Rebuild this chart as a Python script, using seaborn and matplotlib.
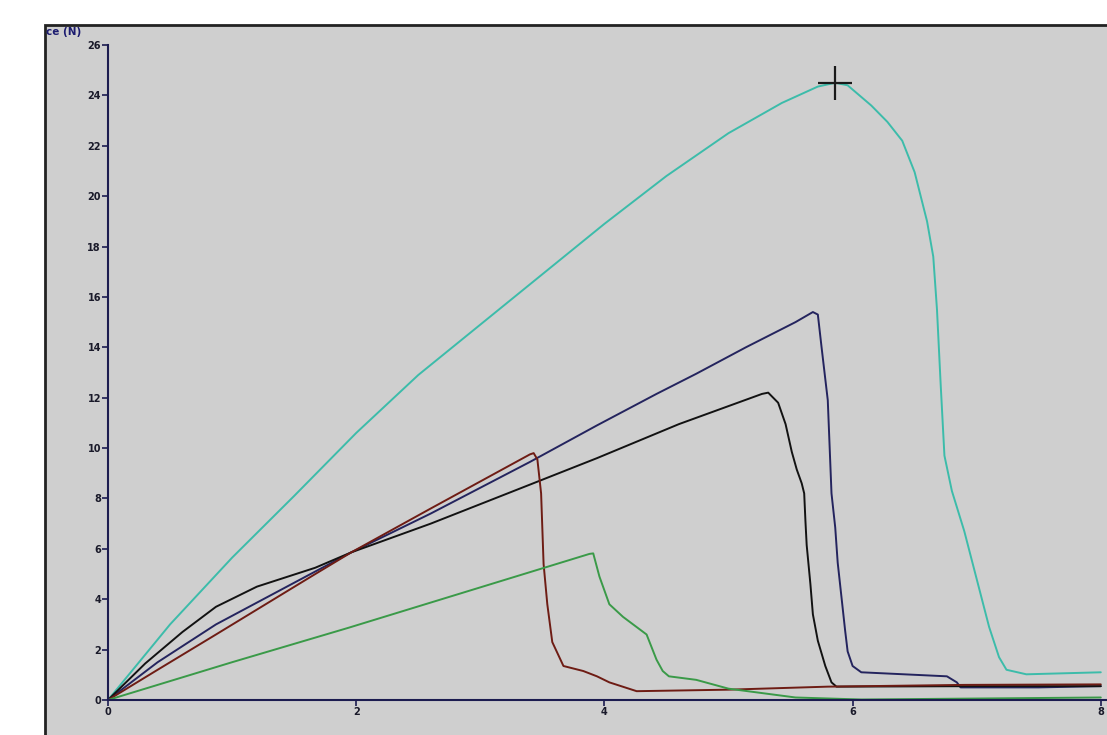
import seaborn as sns
import matplotlib.pyplot as plt
import matplotlib.patches as patches
import pandas as pd
import numpy as np

# DATA
cyan_x = [0, 0.5, 1.0, 1.5, 2.0, 2.5, 3.0, 3.5, 4.0, 4.5, 5.0, 5.43, 5.72, 5.86, 5.96, 6.15,
          6.28, 6.4, 6.5, 6.6, 6.65, 6.68, 6.71, 6.74, 6.8, 6.9, 7.0, 7.1, 7.18, 7.24, 7.4, 8.0]
cyan_y = [0, 3.0, 5.65, 8.1, 10.6, 12.9, 14.9, 16.9, 18.9, 20.8, 22.5, 23.7, 24.35, 24.5, 24.4,
          23.6, 22.95, 22.2, 20.95, 19.0, 17.6, 15.5, 12.5, 9.7, 8.3, 6.7, 4.8, 2.9, 1.7, 1.2, 1.02, 1.1]

navy_x = [0, 0.4, 0.87, 1.67, 1.96, 2.6, 3.4, 3.94, 4.42, 4.74, 5.14, 5.54, 5.68, 5.72, 5.75,
          5.8, 5.83, 5.86, 5.88, 5.91, 5.94, 5.96, 6.0, 6.07, 6.5, 6.76, 6.84, 6.87, 7.5, 8.0]
navy_y = [0, 1.5, 3.0, 5.1, 5.86, 7.4, 9.45, 10.9, 12.15, 12.95, 14.0, 15.0, 15.4, 15.3, 14.0,
          11.9, 8.2, 6.85, 5.45, 4.1, 2.75, 1.93, 1.35, 1.1, 1.0, 0.94, 0.7, 0.5, 0.5, 0.55]

black_x = [0, 0.3, 0.6, 0.87, 1.2, 1.67, 1.96, 2.6, 3.4, 3.94, 4.6, 5.27, 5.32, 5.4, 5.46,
           5.51, 5.55, 5.59, 5.61, 5.62, 5.63, 5.66, 5.68, 5.72, 5.78, 5.83, 5.87, 7.0, 8.0]
black_y = [0, 1.45, 2.7, 3.7, 4.5, 5.25, 5.86, 7.0, 8.55, 9.6, 10.95, 12.15, 12.2, 11.8, 10.95,
           9.85, 9.15, 8.6, 8.2, 7.1, 6.15, 4.6, 3.4, 2.35, 1.35, 0.7, 0.53, 0.55, 0.55]

red_x = [0, 0.4, 0.87, 1.67, 1.96, 2.6, 3.4, 3.43, 3.46, 3.49, 3.51, 3.54, 3.58, 3.67, 3.83,
         3.94, 4.04, 4.26, 5.0, 5.8, 6.9, 8.0]
red_y = [0, 1.2, 2.6, 5.0, 5.86, 7.6, 9.75, 9.8, 9.55, 8.2, 5.4, 3.8, 2.3, 1.35, 1.15,
         0.94, 0.7, 0.35, 0.41, 0.53, 0.6, 0.62]

green_x = [0, 1.0, 1.94, 3.88, 3.91, 3.96, 4.04, 4.15, 4.34, 4.42, 4.47, 4.52, 4.74, 5.0,
           5.54, 6.07, 8.0]
green_y = [0, 1.5, 2.87, 5.8, 5.82, 4.9, 3.8, 3.3, 2.6, 1.6, 1.15, 0.94, 0.8, 0.45,
           0.1, 0.02, 0.1]

y_ticks = list(range(0, 27, 2))
x_ticks = [0, 2, 4, 6, 8]

series = {
    'cyan': (cyan_x, cyan_y),
    'navy': (navy_x, navy_y),
    'black': (black_x, black_y),
    'red': (red_x, red_y),
    'green': (green_x, green_y),
}
colors = {'cyan': '#3cbcaa', 'navy': '#24245e', 'black': '#121212',
          'red': '#6e1c14', 'green': '#3a9a48'}

df = pd.concat([pd.DataFrame({'series': k, 'x': v[0], 'y': v[1]}) for k, v in series.items()],
               ignore_index=True)

# VISUALIZATION
sns.set_style("ticks")
fig = plt.figure(figsize=(11.07, 7.35), dpi=100, facecolor='white')

# screen area of the photo
fig.patches.append(patches.Rectangle((45 / 1107, -0.01), 1.0, (735 - 25) / 735 + 0.01,
                                     transform=fig.transFigure, facecolor='#cfcfcf',
                                     edgecolor='#222222', linewidth=2, zorder=-10))

ax = fig.add_axes([108 / 1107, 35 / 735, (1107 - 108) / 1107, 655 / 735])
ax.set_facecolor('none')
ax.set_zorder(5)

# draw each trace in recorded order
for name in series:
    sub = df[df['series'] == name]
    sns.lineplot(data=sub, x='x', y='y', color=colors[name], sort=False,
                 estimator=None, linewidth=1.4, ax=ax)

# cursor cross at the maximum of the cyan curve
i_max = int(np.argmax(cyan_y))
ax.plot(cyan_x[i_max], cyan_y[i_max], marker='+', markersize=25, markeredgewidth=1.6,
        color='#1a1a1a', zorder=5)

ax.set_xlim(0, 8.05)
ax.set_ylim(0, 26)
ax.set_xticks(x_ticks)
ax.set_yticks(y_ticks)
ax.set_xlabel('')
ax.set_ylabel('')
sns.despine(ax=ax)
for side in ['left', 'bottom']:
    ax.spines[side].set_color('#1c1c50')
    ax.spines[side].set_linewidth(1.5)
ax.tick_params(length=4, width=1.2, color='#1c1c50', labelsize=7, pad=1, labelcolor='#1a1a2a')
for lab in ax.get_xticklabels() + ax.get_yticklabels():
    lab.set_fontweight('bold')

fig.text(46 / 1107, 1 - 32 / 735, 'ce (N)', fontsize=7.5, fontweight='bold', color='#1c1c70',
         va='center', ha='left')

fig.savefig('out.png', dpi=100, facecolor='white')
